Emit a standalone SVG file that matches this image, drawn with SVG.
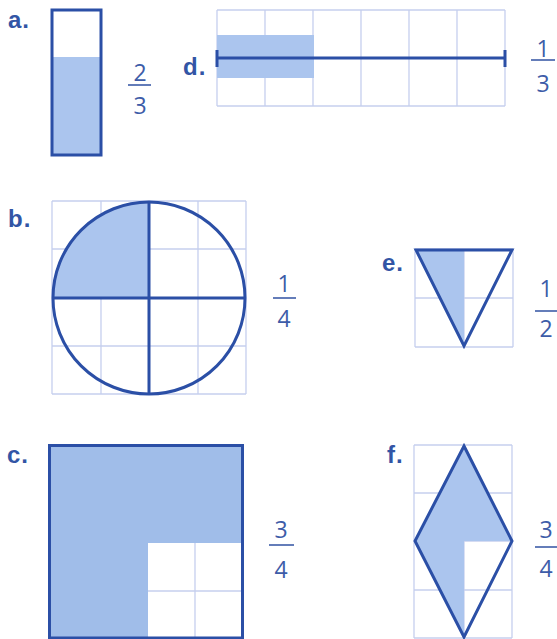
<svg xmlns="http://www.w3.org/2000/svg" width="557" height="639" viewBox="0 0 557 639">
<style>
.grid{stroke:#c6cfee;stroke-width:1.3;fill:none}
.shade{fill:#abc5ee;stroke:none}
.shadeC{fill:#a0bde9;stroke:none}
.out{stroke:#2b4fa6;stroke-width:3;fill:none;stroke-linejoin:miter}
.lbl{font-family:"Liberation Sans",Arial,sans-serif;font-weight:bold;font-size:24px;letter-spacing:1px;fill:#3255a5}
.num{font-family:"Open Sans","Noto Sans",sans-serif;font-size:23px;fill:#3d5ca8;text-anchor:middle}
.bar{stroke:#3d5ca8;stroke-width:1.6}
</style>
<rect width="557" height="639" fill="#ffffff"/>

<g id="a">
<text class="lbl" x="8" y="28">a.</text>
<rect class="shade" x="52" y="57" width="49" height="98"/>
<rect class="out" x="52" y="10" width="49" height="145"/>
<text class="num" x="140" y="81">2</text>
<line class="bar" x1="128" y1="85" x2="151" y2="85"/>
<text class="num" x="140" y="114">3</text>
</g>

<g id="d">
<text class="lbl" x="183" y="75">d.</text>
<path class="grid" d="M217 10H505M217 58H505M217 106H505M217 10V106M265 10V106M313 10V106M361 10V106M409 10V106M457 10V106M505 10V106"/>
<rect class="shade" x="217" y="35" width="97" height="43"/>
<path class="out" d="M217 58H505M217 50V67M505 50V67"/>
<text class="num" x="543" y="57">1</text>
<line class="bar" x1="531" y1="60" x2="555" y2="60"/>
<text class="num" x="543" y="92">3</text>
</g>

<g id="b">
<text class="lbl" x="8" y="227">b.</text>
<path class="grid" d="M52 201H246M52 249H246M52 346H246M52 394H246M52 201V394M101 201V394M198 201V394M246 201V394"/>
<path class="shade" d="M149 298V201A97 97 0 0 0 52 298Z"/>
<circle class="out" cx="149" cy="298" r="96"/>
<path class="out" d="M149 202V393M53 298H245"/>
<text class="num" x="284" y="292">1</text>
<line class="bar" x1="273" y1="298" x2="296" y2="298"/>
<text class="num" x="284" y="327">4</text>
</g>

<g id="e">
<text class="lbl" x="382" y="271">e.</text>
<path class="grid" d="M415 249H513M415 298H513M415 347H513M415 249V347M464 249V347M513 249V347"/>
<path class="shade" d="M416 250H464V347Z"/>
<path class="out" d="M416 250H512L464 346Z"/>
<text class="num" x="546" y="297">1</text>
<line class="bar" x1="535" y1="311" x2="557" y2="311"/>
<text class="num" x="546" y="337">2</text>
</g>

<g id="c">
<text class="lbl" x="7" y="463">c.</text>
<path class="shadeC" d="M49 445H243V543H148V638H49Z"/>
<path class="grid" d="M195 543V638M148 591H243"/>
<path class="out" d="M49.5 445.5H242.5V638H49.5Z"/>
<text class="num" x="281" y="538">3</text>
<line class="bar" x1="269" y1="545" x2="294" y2="545"/>
<text class="num" x="281" y="578">4</text>
</g>

<g id="f">
<text class="lbl" x="387" y="463">f.</text>
<path class="grid" d="M414 445H512M414 493H512M414 541H512M414 590H512M414 638H512M414 445V638M464 445V638M512 445V638"/>
<path class="shade" d="M464 446L512 541H464V637L415 541Z"/>
<path class="out" d="M464 446L512 541L464 637L415 541Z"/>
<text class="num" x="546" y="538">3</text>
<line class="bar" x1="535" y1="547" x2="557" y2="547"/>
<text class="num" x="546" y="577">4</text>
</g>
</svg>
